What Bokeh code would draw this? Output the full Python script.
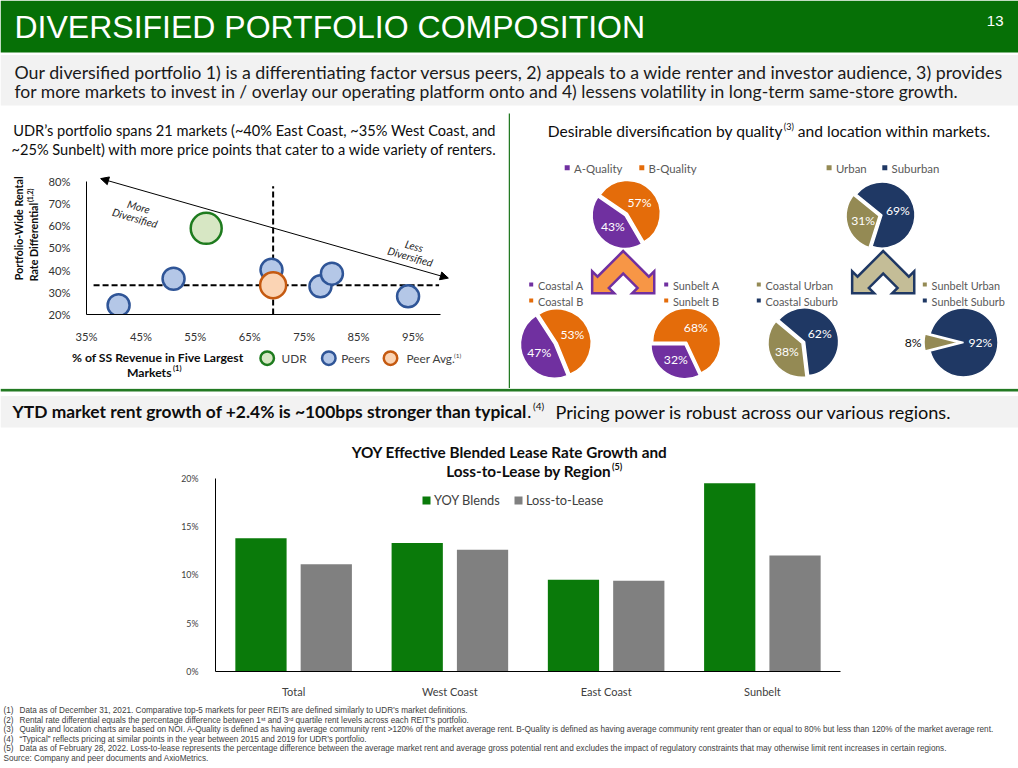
import math
from bokeh.plotting import figure
from bokeh.models import Range1d, ColumnDataSource, Arrow, NormalHead, FixedTicker
from bokeh.layouts import column, row
from bokeh.core.properties import value
from bokeh.transform import dodge
from bokeh.embed import file_html
from bokeh.resources import INLINE

# ---------------- data ----------------
peer_x = [40.9, 51.0, 69.0, 78.0, 80.1, 94.1]
peer_y = [24.2, 36.1, 40.1, 32.7, 38.4, 28.2]
udr_x = [57.0]
udr_y = [58.8]
peer_avg_x = [69.3]
peer_avg_y = [33.2]
scatter_x_ticks = [35, 45, 55, 65, 75, 85, 95]
scatter_y_ticks = [20, 30, 40, 50, 60, 70, 80]

quality_names = ["A-Quality", "B-Quality"]
quality_pct = [43, 57]
location_names = ["Urban", "Suburban"]
location_pct = [31, 69]
coastal_quality_names = ["Coastal A", "Coastal B"]
coastal_quality_pct = [47, 53]
sunbelt_quality_names = ["Sunbelt A", "Sunbelt B"]
sunbelt_quality_pct = [32, 68]
coastal_location_names = ["Coastal Urban", "Coastal Suburb"]
coastal_location_pct = [38, 62]
sunbelt_location_names = ["Sunbelt Urban", "Sunbelt Suburb"]
sunbelt_location_pct = [8, 92]

regions = ["Total", "West Coast", "East Coast", "Sunbelt"]
yoy_blends = [13.8, 13.3, 9.5, 19.5]
loss_to_lease = [11.1, 12.6, 9.4, 12.0]
bar_y_ticks = [0, 5, 10, 15, 20]

footnote_nums = ["(1)", "(2)", "(3)", "(4)", "(5)", "Source:"]
footnote_texts = [
    "Data as of December 31, 2021.  Comparative top-5 markets for peer REITs are defined similarly to UDR\u2019s market definitions.",
    "Rental rate differential  equals the percentage  difference between  1\u02e2\u1d57 and 3\u02b3\u1d48 quartile rent levels across each  REIT\u2019s portfolio.",
    "Quality and location charts are based on NOI. A-Quality is defined as having average community rent >120% of the market average rent. B-Quality is defined as having average community rent greater than or equal to 80% but less than 120% of the market average rent.",
    "\u201cTypical\u201d reflects pricing at similar points in the year between  2015  and 2019  for UDR\u2019s portfolio.",
    "Data as of February 28, 2022.  Loss-to-lease represents  the percentage  difference between  the average market rent and average  gross potential  rent and excludes  the impact of regulatory  constraints  that may otherwise limit rent increases  in certain regions.",
    "Company and peer documents and AxioMetrics.",
]

# ---------------- styles ----------------
GREEN_T = "#067006"
GREEN_L = "#237a23"
GRAY_BG = "#f2f2f2"
PURPLE = "#7030a0"
ORANGE = "#e46c0a"
OLIVE = "#948a54"
NAVY = "#1f3864"
BAR_GREEN = "#0a7a0a"
BAR_GRAY = "#808080"
BODY = "Lato"
SANS = "Liberation Sans"

W, H = 1018, 768
SX, SY = W / 1018.0, H / 768.0


def base_fig(w, h, xr, yr, **kw):
    p = figure(width=w, height=h, x_range=xr, y_range=yr, toolbar_location=None,
               output_backend="svg", outline_line_color=None,
               background_fill_color="white", border_fill_color="white", **kw)
    return p


def panel(x0, x1, y0, y1):
    px0, px1 = round(x0 * SX), round(x1 * SX)
    py0, py1 = round(y0 * SY), round(y1 * SY)
    p = base_fig(px1 - px0, py1 - py0, Range1d(px0 / SX, px1 / SX), Range1d(py1 / SY, py0 / SY),
                 x_axis_type=None, y_axis_type=None, min_border=0)
    return p


def chart(x0, x1, y0, y1, fx0, fx1, fy0, fy1, xr, yr):
    px0, px1 = round(x0 * SX), round(x1 * SX)
    py0, py1 = round(y0 * SY), round(y1 * SY)
    qx0, qx1 = round(fx0 * SX), round(fx1 * SX)
    qy0, qy1 = round(fy0 * SY), round(fy1 * SY)
    p = base_fig(px1 - px0, py1 - py0, xr, yr,
                 min_border_left=qx0 - px0, min_border_right=px1 - qx1,
                 min_border_top=qy0 - py0, min_border_bottom=py1 - qy1)
    p.extra_x_ranges = {"sx": Range1d(qx0 / SX, qx1 / SX)}
    p.extra_y_ranges = {"sy": Range1d(qy1 / SY, qy0 / SY)}
    p.grid.visible = False
    return p


def txt(p, x, y, s, size, color="#262626", bold=False, align="left", baseline="middle",
        angle=0.0, font=BODY, slide=False, italic=False):
    kw = dict(x_range_name="sx", y_range_name="sy") if slide else {}
    style = "bold" if bold else ("italic" if italic else "normal")
    p.text(x=[x], y=[y], text=[s], text_font=value(font), text_font_size=f"{size}px",
           text_color=color, text_font_style=style, text_align=align,
           text_baseline=baseline, angle=angle, **kw)


# ---------------- header ----------------
header = panel(0, 1018, 0, 106)
header.quad(left=[0], right=[1018], top=[0], bottom=[52], fill_color=GREEN_T, line_color=None)
header.quad(left=[0], right=[1018], top=[54.5], bottom=[105], fill_color=GRAY_BG, line_color=None)
txt(header, 14, 26.5, "DIVERSIFIED PORTFOLIO COMPOSITION", 32, color="white", font=SANS)
txt(header, 1003, 20.5, "13", 15, color="white", font=SANS, align="right")
txt(header, 14, 71.5, "Our diversified portfolio 1) is a differentiating factor versus peers, 2) appeals to a wide renter and investor audience, 3) provides", 17.8, color="#1a1a1a")
txt(header, 14, 90.5, "for more markets to invest in / overlay our operating platform onto and 4) lessens volatility in long-term same-store growth.", 17.5, color="#1a1a1a")

# ---------------- scatter: heading ----------------
shead = panel(0, 508.5, 106, 170)
txt(shead, 254, 129.5, "UDR\u2019s portfolio spans 21 markets (~40% East Coast, ~35% West Coast, and", 14.6, color="#0d0d0d", align="center")
txt(shead, 254, 148.5, "~25% Sunbelt) with more price points that cater to a wide variety of renters.", 14.6, color="#0d0d0d", align="center")

# ---------------- scatter: y label ----------------
ylab = panel(0, 45, 170, 345)
txt(ylab, 18.3, 238, "Portfolio-Wide Rental", 10.7, color="#0d0d0d", bold=True, align="center", angle=math.pi / 2)
txt(ylab, 33.3, 206.5, "Rate Differential", 10.7, color="#0d0d0d", bold=True, align="right", angle=math.pi / 2)
txt(ylab, 29.8, 205.5, "(1,2)", 7, color="#0d0d0d", bold=True, align="left", angle=math.pi / 2)

# ---------------- scatter chart ----------------
sc = chart(45, 508.5, 170, 345, 82.7, 455.5, 173.2, 315.0, Range1d(35, 103), Range1d(20, 83.5))
for ax, ticks, bnds in ((sc.xaxis, scatter_x_ticks, (35, 100)), (sc.yaxis, scatter_y_ticks, (20, 80))):
    ax.ticker = FixedTicker(ticks=ticks)
    ax.major_label_overrides = {t: f"{t}%" for t in ticks}
    ax.bounds = bnds
    ax.major_tick_line_color = None
    ax.minor_tick_line_color = None
    ax.axis_line_color = "black"
    ax.axis_line_width = 1
    ax.major_label_text_font = BODY
    ax.major_label_text_font_size = "11.2px"
    ax.major_label_text_color = "#333333"
sc.xaxis.major_label_standoff = 9
sc.yaxis.major_label_standoff = 10

# reference lines at peer averages
sc.segment(x0=peer_avg_x, y0=[20], x1=peer_avg_x, y1=[77.8], line_color="black", line_width=2, line_dash="6 3")
sc.segment(x0=[36.3], y0=peer_avg_y, x1=[99.8], y1=peer_avg_y, line_color="black", line_width=2, line_dash="6 3")
sc.add_layout(Arrow(x_start=37.6, y_start=81.2, x_end=101.5, y_end=36.4, line_width=1, line_color="black",
                    start=NormalHead(size=8, fill_color="black", line_color="black"),
                    end=NormalHead(size=8, fill_color="black", line_color="black")))
ang = -math.atan2(300, 1050)
txt(sc, 44.6, 68.5, "More", 10.6, color="#262626", align="center", angle=ang, italic=True)
txt(sc, 43.9, 63.4, "Diversified", 10.6, color="#262626", align="center", angle=ang, italic=True)
txt(sc, 95.2, 50.8, "Less", 10.6, color="#262626", align="center", angle=ang, italic=True)
txt(sc, 94.5, 46.0, "Diversified", 10.6, color="#262626", align="center", angle=ang, italic=True)

sc.scatter(x=peer_x, y=peer_y, size=22, fill_color="#b4c7e7", line_color="#2f5597", line_width=2.5)
sc.scatter(x=peer_avg_x, y=peer_avg_y, size=26, fill_color="#fbd4b4", line_color="#c55a11", line_width=2.5)
sc.scatter(x=udr_x, y=udr_y, size=31, fill_color="#d7e7c4", line_color="#1e7b1e", line_width=2.5)

# ---------------- scatter legend ----------------
sleg = panel(0, 508.5, 345, 388)
txt(sleg, 157.2, 356.7, "% of SS Revenue in Five Largest", 12.2, color="#0d0d0d", bold=True, align="center")
txt(sleg, 171, 372, "Markets", 12.2, color="#0d0d0d", bold=True, align="right")
txt(sleg, 172.5, 367.5, "(1)", 7.5, color="#0d0d0d", bold=True)
sleg.scatter(x=[266.7], y=[357.7], size=13.5, fill_color="#d7e7c4", line_color="#1e7b1e", line_width=2.5)
sleg.scatter(x=[328.3], y=[357.7], size=13.5, fill_color="#b4c7e7", line_color="#2f5597", line_width=2.5)
sleg.scatter(x=[390.0], y=[357.7], size=13.5, fill_color="#fbd4b4", line_color="#c55a11", line_width=2.5)
txt(sleg, 281, 358, "UDR", 11.8, color="#404040")
txt(sleg, 340.7, 358, "Peers", 11.8, color="#404040")
txt(sleg, 406, 358, "Peer Avg.", 11.8, color="#404040", align="left")
txt(sleg, 453.5, 354.5, "(1)", 6.5, color="#404040")

# ---------------- divider ----------------
divider = panel(508.5, 510.5, 106, 388)
divider.quad(left=[508.0], right=[510.6], top=[113], bottom=[388], fill_color=GREEN_L, line_color=None)

# ---------------- pies ----------------
pies = panel(510.5, 1018, 106, 388)
txt(pies, 782.3, 130, "Desirable diversification by quality", 15.6, color="#0d0d0d", align="right")
txt(pies, 783.3, 125.5, "(3)", 9, color="#0d0d0d")
txt(pies, 797.3, 130, "and location within markets.", 15.6, color="#0d0d0d")


def legend_item(p, x, y, label, color, size, fsize):
    p.scatter(x=[x], y=[y], marker="square", size=size, fill_color=color, line_color=None)
    txt(p, x + 6.8, y + 0.5, label, fsize, color="#595959")


legend_item(pies, 566.7, 167.3, quality_names[0], PURPLE, 5, 11.4)
legend_item(pies, 641.3, 167.3, quality_names[1], ORANGE, 5, 11.4)
legend_item(pies, 828.6, 167.3, location_names[0], OLIVE, 5, 11.4)
legend_item(pies, 884.3, 167.3, location_names[1], NAVY, 5, 11.4)
for (nm, x0) in ((coastal_quality_names, 530.7), (sunbelt_quality_names, 665.7),
                 (coastal_location_names, 758.3), (sunbelt_location_names, 924.3)):
    c1, c2 = (PURPLE, ORANGE) if "A" in nm[0][-1] else (OLIVE, NAVY)
    legend_item(pies, x0, 284, nm[0], c1, 4, 10.9)
    legend_item(pies, x0, 300, nm[1], c2, 4, 10.9)


def pie(p, cx, cy, r, pct, colors, a0, explode=(1.5, 1.5), label_r=(0.55, 0.55), label_colors=("white", "white")):
    total = float(sum(pct))
    acc = a0
    xs, ys, ss, es, lx, ly = [], [], [], [], [], []
    for v, ex, lr in zip(pct, explode, label_r):
        s, e = acc, acc + v / total * 360.0
        acc = e
        b = math.radians((s + e) / 2)
        ox, oy = cx + ex * math.cos(b), cy - ex * math.sin(b)
        xs.append(ox); ys.append(oy)
        ss.append(math.radians(s)); es.append(math.radians(e))
        lx.append(cx + lr * r * math.cos(b)); ly.append(cy - lr * r * math.sin(b))
    src = ColumnDataSource(dict(x=xs, y=ys, s=ss, e=es, c=list(colors), lab=[f"{v}%" for v in pct],
                                lx=lx, ly=ly, lc=list(label_colors)))
    p.wedge(x="x", y="y", radius=r, start_angle="s", end_angle="e", fill_color="c",
            line_color="white", line_width=1.5, source=src)
    p.text(x="lx", y="ly", text="lab", text_color="lc", text_font=value(BODY), text_font_size="12.2px",
           text_align="center", text_baseline="middle", source=src)


pie(pies, 625.7, 214, 33, quality_pct, (PURPLE, ORANGE), 145.5)
pie(pies, 880.0, 215, 33, location_pct, (OLIVE, NAVY), 140.8)
pie(pies, 555.3, 343, 34, coastal_quality_pct, (PURPLE, ORANGE), 123.0)
pie(pies, 685.3, 343, 34, sunbelt_quality_pct, (PURPLE, ORANGE), 180.0)
pie(pies, 802.8, 342, 34, coastal_location_pct, (OLIVE, NAVY), 140.0)
pie(pies, 962.0, 342, 34.5, sunbelt_location_pct, (OLIVE, NAVY), 165.6,
    explode=(4.0, 1.0), label_r=(1.43, 0.52), label_colors=("#0d0d0d", "white"))


def chevron(p, ax, ay, fill, line, t=16.0, L=36.3, b=7.6):
    r2 = math.sqrt(2.0)
    d = (-1 / r2, 1 / r2)
    n = (1 / r2, 1 / r2)
    h = t / 2 + b
    P1 = (L * d[0], L * d[1])
    B1 = (P1[0] - b * n[0], P1[1] - b * n[1])
    M = (P1[0] + t / 2 * n[0], P1[1] + t / 2 * n[1])
    T = (M[0] + h * d[0], M[1] + h * d[1])
    P2 = (P1[0] + t * n[0], P1[1] + t * n[1])
    B2 = (P2[0] + b * n[0], P2[1] + b * n[1])
    I = (0.0, t * r2)
    left = [(0.0, 0.0), P1, B1, T, B2, P2, I]
    right = [(-q[0], q[1]) for q in (P2, B2, T, B1, P1)]
    pts = left + right
    p.patch(x=[ax + q[0] for q in pts], y=[ay + q[1] for q in pts], fill_color=fill,
            line_color=line, line_width=2.5, line_join="miter")


chevron(pies, 622.7, 250.5, "#f79646", PURPLE)
chevron(pies, 882.7, 250.5, "#c4bd97", NAVY)

# ---------------- middle banner ----------------
cpan = panel(0, 1018, 388, 432)
cpan.quad(left=[0], right=[1018], top=[388.2], bottom=[390.9], fill_color=GREEN_L, line_color=None)
cpan.quad(left=[0], right=[1018], top=[395.5], bottom=[427], fill_color=GRAY_BG, line_color=None)
txt(cpan, 526.5, 411, "YTD market rent growth of +2.4% is ~100bps stronger than typical", 17.4, color="#0d0d0d", bold=True, align="right")
txt(cpan, 526.8, 411, ".", 17.4, color="#0d0d0d")
txt(cpan, 532.5, 405.5, "(4)", 10, color="#0d0d0d")
txt(cpan, 555, 411, "Pricing power is robust across our various regions.", 18.1, color="#0d0d0d")

# ---------------- bar chart ----------------
region_pos = [i + 0.5 for i in range(len(regions))]
yend = (675.0 - 440.0) / ((675.0 - 478.5) / 20.0)
bc = chart(0, 1018, 432, 700, 215.3, 840.1, 440, 675, Range1d(0, len(regions)), Range1d(0, yend))
src = ColumnDataSource(dict(pos=region_pos, region=regions, yoy=yoy_blends, ltl=loss_to_lease))
bc.vbar(x=dodge("pos", -0.209), top="yoy", width=0.328, source=src,
        fill_color=BAR_GREEN, line_color=None)
bc.vbar(x=dodge("pos", 0.209), top="ltl", width=0.328, source=src,
        fill_color=BAR_GRAY, line_color=None)
bc.yaxis.ticker = FixedTicker(ticks=bar_y_ticks)
bc.yaxis.major_label_overrides = {t: f"{t}%" for t in bar_y_ticks}
bc.yaxis.bounds = (0, 20)
bc.xaxis.ticker = FixedTicker(ticks=region_pos)
bc.xaxis.major_label_overrides = {p: r for p, r in zip(region_pos, regions)}
for ax in (bc.xaxis, bc.yaxis):
    ax.major_tick_line_color = None
    ax.minor_tick_line_color = None
    ax.axis_line_color = "black"
    ax.axis_line_width = 1
    ax.major_label_text_font = BODY
    ax.major_label_text_color = "#404040"
bc.yaxis.major_label_text_font_size = "8.8px"
bc.xaxis.major_label_text_font_size = "11px"
bc.yaxis.major_label_standoff = 11
bc.xaxis.major_label_standoff = 7
txt(bc, 509, 452, "YOY Effective Blended Lease Rate Growth and", 15.3, color="#0d0d0d", bold=True, align="center", slide=True)
txt(bc, 610.5, 471.5, "Loss-to-Lease by Region", 15.3, color="#0d0d0d", bold=True, align="right", slide=True)
txt(bc, 611.5, 466.5, "(5)", 9, color="#0d0d0d", bold=True, slide=True)
bc.scatter(x=[426], y=[501], marker="square", size=8, fill_color=BAR_GREEN, line_color=None,
           x_range_name="sx", y_range_name="sy")
txt(bc, 433.5, 501, "YOY Blends", 12.8, color="#404040", slide=True)
bc.scatter(x=[518], y=[501], marker="square", size=8, fill_color=BAR_GRAY, line_color=None,
           x_range_name="sx", y_range_name="sy")
txt(bc, 525.5, 501, "Loss-to-Lease", 12.8, color="#404040", slide=True)

# ---------------- footnotes ----------------
foot = panel(0, 1018, 700, 768)
fy = [710, 719.5, 729, 738.5, 748, 757.5]
for num, t, y in zip(footnote_nums, footnote_texts, fy):
    if num == "Source:":
        txt(foot, 3, y, num + "  " + t, 8.2, color="#404040", font=SANS)
    else:
        txt(foot, 3, y, num, 8.2, color="#404040", font=SANS)
        txt(foot, 19, y, t, 8.2, color="#404040", font=SANS)

layout = column(
    row(header),
    row(column(shead, row(ylab, sc), sleg), divider, pies),
    row(cpan), row(bc), row(foot),
)

open("out.html", "w").write(file_html(layout, INLINE))
